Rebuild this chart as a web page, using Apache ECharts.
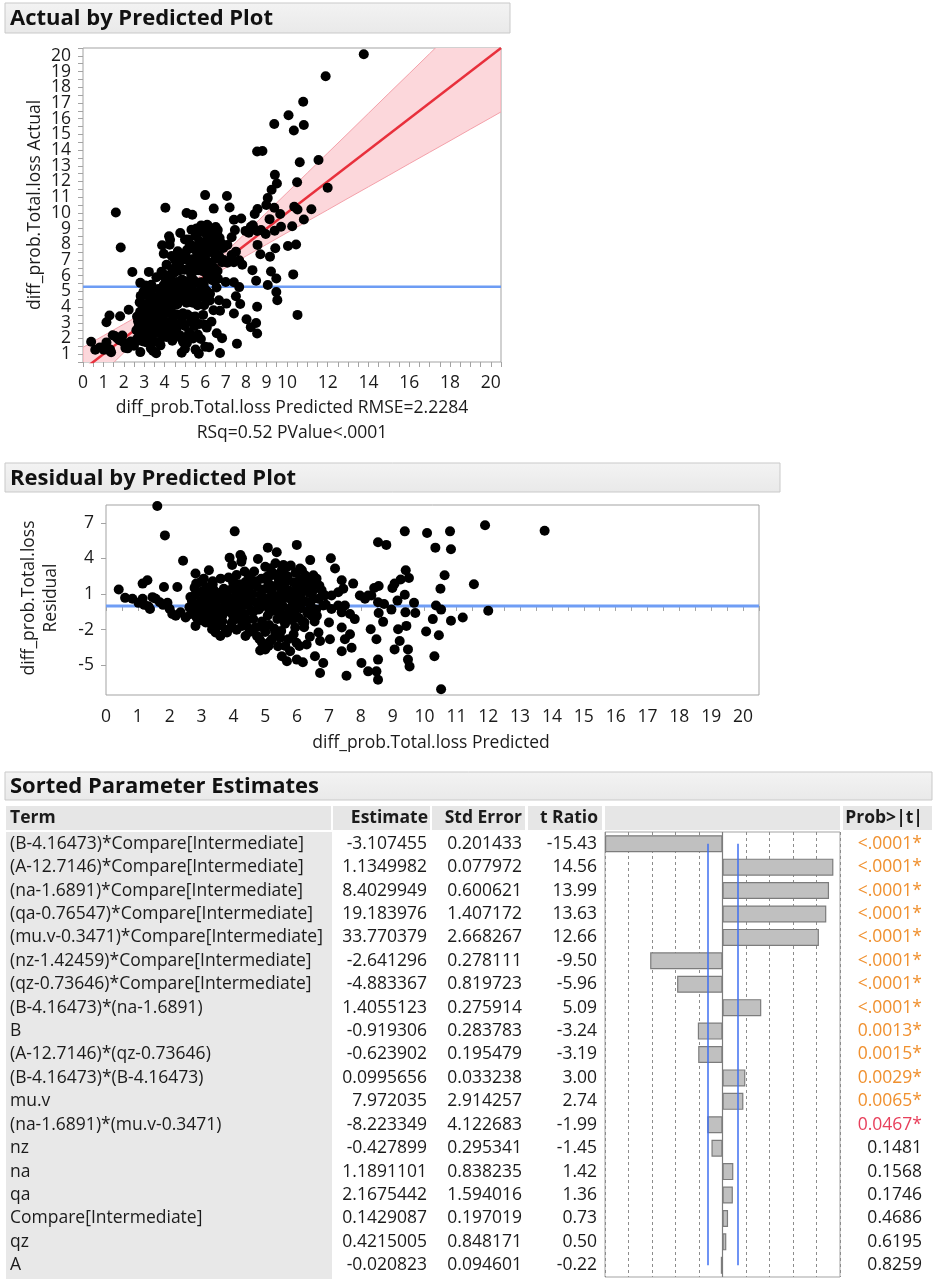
<!DOCTYPE html>
<html>
<head>
<meta charset="utf-8">
<title>Fit diagnostics</title>
<script src="https://cdn.jsdelivr.net/npm/echarts@6/dist/echarts.min.js"></script>
<style>
  html, body { margin: 0; padding: 0; background: #ffffff; }
  #main { width: 937px; height: 1285px; }
</style>
</head>
<body>
<div id="main"></div>
<script>
// ---- Data -----------------------------------------------------------------
// Each pair is [predicted, actual] for diff_prob.Total.loss.
const predictedActual = [
  [0.40,1.79],[0.60,1.28],[0.83,1.43],[1.02,1.28],[1.15,1.75],[1.20,1.29],[1.33,1.30],[1.46,2.20],[1.56,2.16],[1.69,2.00],
  [1.79,1.88],[1.93,2.19],[2.00,1.74],[1.38,1.12],[1.15,3.03],[1.30,3.46],[1.82,3.41],[1.61,10.02],[1.85,7.79],[2.24,3.83],
  [2.42,6.23],[2.08,1.40],[2.19,1.37],[2.34,1.80],[2.50,1.53],[2.66,1.98],[2.81,5.54],[2.83,4.71],[2.97,4.99],[3.23,6.24],
  [3.07,5.37],[3.35,5.42],[2.73,2.76],[2.86,2.60],[2.97,3.28],[3.13,3.73],[3.02,2.48],[2.81,1.13],[3.13,1.74],[3.33,1.37],
  [3.44,1.20],[3.59,1.06],[3.80,1.56],[3.23,4.25],[3.39,4.70],[3.54,4.42],[3.70,5.15],[3.59,4.19],[3.75,3.78],[3.96,4.56],
  [3.91,3.37],[3.65,2.83],[3.44,2.33],[3.23,2.55],[3.13,2.87],[3.88,7.94],[3.96,7.40],[4.04,10.32],[4.22,8.51],[4.27,8.28],
  [4.25,7.97],[3.99,6.06],[3.96,5.41],[4.11,5.13],[4.17,4.77],[4.27,5.86],[4.38,6.40],[4.48,7.07],[4.58,6.74],[4.43,5.59],
  [4.53,5.13],[4.32,4.35],[4.17,3.63],[4.06,2.95],[4.27,2.59],[4.38,1.85],[4.58,2.62],[4.74,2.21],[4.90,1.80],[5.00,1.34],
  [4.84,1.09],[5.10,1.72],[5.21,2.40],[5.31,3.07],[4.77,8.72],[5.08,9.99],[5.36,9.88],[5.16,8.31],[5.26,7.99],[5.10,7.63],
  [5.42,7.72],[5.57,9.01],[5.68,8.98],[5.52,8.53],[5.99,11.13],[6.09,9.24],[6.25,8.84],[6.41,10.27],[6.35,8.51],[6.51,9.10],
  [6.61,8.91],[7.06,11.07],[7.19,10.34],[7.40,9.56],[7.45,8.90],[7.29,8.45],[7.08,7.96],[6.88,7.76],[6.77,8.08],[6.67,7.27],
  [6.82,6.85],[7.08,6.82],[7.29,7.32],[7.50,7.53],[7.40,6.86],[7.66,6.98],[7.81,6.70],[7.76,9.64],[7.97,8.85],[8.13,8.73],
  [8.23,9.11],[8.33,9.21],[6.67,4.43],[6.72,3.77],[6.56,2.33],[6.82,2.02],[6.72,1.07],[7.03,4.22],[7.40,5.58],[7.50,4.69],
  [7.66,5.27],[7.71,4.19],[7.40,3.59],[7.55,1.67],[8.02,3.22],[8.23,2.72],[8.31,6.35],[8.49,5.68],[8.54,4.02],[8.49,2.98],
  [8.54,2.32],[8.42,9.93],[8.56,10.24],[8.54,13.91],[8.80,13.94],[8.54,8.85],[8.73,8.90],[8.56,7.96],[8.96,8.65],[8.70,7.36],
  [9.06,5.40],[9.17,7.21],[9.22,6.27],[8.99,10.50],[9.06,10.94],[9.25,11.47],[9.41,12.42],[9.51,11.87],[9.38,10.32],[9.15,9.60],
  [9.38,15.66],[9.40,8.86],[9.43,7.75],[9.48,5.82],[9.48,4.96],[9.53,4.44],[9.67,9.93],[9.71,9.11],[10.08,16.22],[10.34,15.25],
  [10.26,9.15],[10.05,7.89],[10.31,6.08],[10.45,7.98],[10.50,11.95],[10.63,13.22],[10.36,10.39],[10.52,10.21],[10.83,9.58],[10.80,17.08],
  [10.83,15.60],[10.52,3.50],[11.20,10.23],[11.55,13.37],[11.90,18.70],[12.00,11.60],[13.77,20.10],[5.52,1.29],[5.68,1.02],[5.99,1.47],
  [6.18,1.44],[6.30,3.06],[6.07,2.69],[5.89,3.50],[5.63,2.25],[5.47,2.80],[5.78,1.97],[6.23,4.84],[6.46,5.64],[5.94,4.12],
  [2.62,2.52],[2.70,3.10],[2.75,2.15],[2.80,3.70],[2.85,1.85],[2.90,3.00],[2.95,2.55],[3.00,4.20],[3.00,1.80],
  [3.05,3.55],[3.10,2.20],[3.15,4.75],[3.20,3.40],[3.25,2.95],[3.30,1.80],[3.30,4.10],[3.35,5.15],[3.40,2.80],[3.45,3.75],
  [3.50,4.60],[3.50,1.80],[3.55,3.35],[3.60,5.90],
  [3.65,2.35],[3.70,4.20],[3.75,1.75],[3.80,4.80],[3.80,3.40],[3.85,6.25],[3.90,4.00],[3.95,2.55],[4.00,5.90],[4.00,3.10],
  [4.05,4.45],[4.10,2.10],[4.10,6.70],[4.15,4.05],[4.20,5.50],[4.25,3.05],[4.30,5.10],[4.35,3.65],[4.35,7.25],[4.40,2.80],
  [4.45,4.65],[4.50,6.20],[4.50,2.30],[4.55,4.15],
  [4.60,5.60],[4.62,3.52],[4.65,7.55],[4.70,5.00],[4.70,2.90],[4.75,6.35],[4.80,4.50],[4.82,2.02],[4.85,5.75],[4.88,7.18],
  [4.90,3.60],[4.95,4.95],[4.98,6.38],[5.00,2.80],[5.00,8.30],
  [5.05,5.65],[5.08,4.28],[5.10,7.00],[5.12,3.52],[5.15,2.15],[5.18,5.38],[5.20,6.40],[5.22,7.82],[5.25,4.85],[5.28,3.38],
  [5.30,6.10],[5.32,8.92],[5.35,7.05],[5.38,4.28],[5.40,2.00],[5.42,5.72],[5.45,7.85],[5.48,4.88],[5.50,6.70],[5.50,3.40],
  [5.55,5.55],[5.58,8.58],[5.60,7.40],[5.62,4.12],[5.65,6.35],[5.68,4.98],[5.70,8.20],[5.72,2.92],[5.75,7.05],[5.78,5.58],
  [5.80,9.20],[5.82,6.32],[5.85,4.65],[5.88,7.88],[5.90,6.90],[5.92,5.42],[5.95,8.75],[5.98,2.88],[6.00,6.20],[6.00,7.60],
  [6.05,5.05],[6.08,8.28],[6.10,6.90],[6.12,5.92],[6.15,9.15],[6.20,7.50],[6.22,4.42],[6.25,6.65],[6.30,8.30],[6.32,5.72],
  [6.38,7.48],[6.40,3.80],[6.42,6.52],[6.45,8.15],[6.50,7.10],[6.55,5.25],[6.58,8.68],[6.60,6.30],
  [2.65,3.40],[2.78,4.30],[2.92,2.05],[3.08,4.05],[3.18,1.95],[3.28,3.10],[3.42,4.00],[3.48,2.60],[3.62,3.00],[3.72,3.60],
  [3.85,4.40],[3.92,2.10],[4.08,3.70],[4.18,6.00],[4.28,4.40],[4.42,3.30],[4.52,5.50],[4.64,4.20],[4.72,6.80],[4.86,3.10],
  [4.94,5.40],[5.02,7.40],[5.14,4.70],[5.24,6.90],[5.34,5.30],[5.46,6.30],[5.56,4.40],[5.66,7.80],[5.76,6.60],[5.86,5.10],
  [5.96,7.20],[6.06,6.40],[6.16,4.90],[6.26,7.90],[6.36,6.00],[6.48,7.70],[6.62,5.80],[6.70,8.40],[6.90,7.00],[7.00,5.60]
];

// Mean of the response and the fitted line (actual = predicted).
const meanActual = 5.3;
const fitLine = [[0, 0], [20.5, 20.5]];

// Confidence band around the fit, read at these predicted values.
const bandX     = [0, 1, 2, 3, 4, 5, 5.3, 6, 7, 8, 9, 10, 11, 12, 13, 14, 15, 16, 17, 18, 19, 20, 20.5];
const bandLower = [-1.43, -0.17, 1.09, 2.35, 3.60, 4.78, 5.10, 5.73, 6.50, 7.25, 7.99, 8.73, 9.46, 10.19, 10.93, 11.66, 12.39, 13.13, 13.86, 14.59, 15.33, 16.06, 16.43];
const bandUpper = [1.43, 2.17, 2.91, 3.65, 4.40, 5.22, 5.50, 6.27, 7.50, 8.75, 10.01, 11.27, 12.54, 13.81, 15.07, 16.34, 17.61, 18.87, 20.14, 21.41, 22.67, 23.94, 24.58];

// Tick labels.
const actualXLabels   = [0, 1, 2, 3, 4, 5, 6, 7, 8, 9, 10, 12, 14, 16, 18, 20];
const actualYLabels   = [1, 2, 3, 4, 5, 6, 7, 8, 9, 10, 11, 12, 13, 14, 15, 16, 17, 18, 19, 20];
const residualXLabels = [0, 1, 2, 3, 4, 5, 6, 7, 8, 9, 10, 11, 12, 13, 14, 15, 16, 17, 18, 19, 20];
const residualYLabels = [-5, -2, 1, 4, 7];

// Sorted parameter estimates.
const terms = [
  '(B-4.16473)*Compare[Intermediate]', '(A-12.7146)*Compare[Intermediate]', '(na-1.6891)*Compare[Intermediate]',
  '(qa-0.76547)*Compare[Intermediate]', '(mu.v-0.3471)*Compare[Intermediate]', '(nz-1.42459)*Compare[Intermediate]',
  '(qz-0.73646)*Compare[Intermediate]', '(B-4.16473)*(na-1.6891)', 'B', '(A-12.7146)*(qz-0.73646)',
  '(B-4.16473)*(B-4.16473)', 'mu.v', '(na-1.6891)*(mu.v-0.3471)', 'nz', 'na', 'qa', 'Compare[Intermediate]', 'qz', 'A'
];
const estimates = [-3.107455, 1.1349982, 8.4029949, 19.183976, 33.770379, -2.641296, -4.883367, 1.4055123, -0.919306,
  -0.623902, 0.0995656, 7.972035, -8.223349, -0.427899, 1.1891101, 2.1675442, 0.1429087, 0.4215005, -0.020823];
const stdErrors = [0.201433, 0.077972, 0.600621, 1.407172, 2.668267, 0.278111, 0.819723, 0.275914, 0.283783,
  0.195479, 0.033238, 2.914257, 4.122683, 0.295341, 0.838235, 1.594016, 0.197019, 0.848171, 0.094601];
const tRatios = [-15.43, 14.56, 13.99, 13.63, 12.66, -9.50, -5.96, 5.09, -3.24, -3.19, 3.00, 2.74, -1.99,
  -1.45, 1.42, 1.36, 0.73, 0.50, -0.22];
const probs = ['<.0001*', '<.0001*', '<.0001*', '<.0001*', '<.0001*', '<.0001*', '<.0001*', '<.0001*',
  '0.0013*', '0.0015*', '0.0029*', '0.0065*', '0.0467*', '0.1481', '0.1568', '0.1746', '0.4686', '0.6195', '0.8259'];
const tCritical = 1.97;
const tScaleMax = 15.43;

// ---- Styling ----------------------------------------------------------------
const FONT = "'Open Sans', 'Noto Sans', sans-serif";
const TXT = '#1b1b1b';
const FRAME = '#a3a3a3';
const FS = 17.5;
const DOT = 10;

const residualPts = predictedActual.map(([p, a]) => [p, +(a - p).toFixed(2)]);

function probClass(s) {
  const p = s.charAt(0) === '<' ? 0 : parseFloat(s);
  if (p < 0.01) return 'sig1';
  if (p < 0.05) return 'sig5';
  return 'ns';
}

function valueAxisLabel(list, extra) {
  return Object.assign({
    color: TXT, fontSize: FS, fontFamily: FONT,
    formatter: v => (list.indexOf(Math.round(v * 1000) / 1000) >= 0 ? String(Math.round(v)) : '')
  }, extra || {});
}

function headerBar(x, y, w, h, label) {
  return [
    { type: 'rect', z: -5, shape: { x: x, y: y, width: w, height: h },
      style: { fill: new echarts.graphic.LinearGradient(0, 0, 0, 1, [{ offset: 0, color: '#f3f3f3' }, { offset: 1, color: '#e9e9e9' }]),
               stroke: '#c9c9c9', lineWidth: 1 } },
    { type: 'text', z: 5, x: x + 5, y: y + h / 2 + 1,
      style: { text: label, fill: '#111', font: 'bold 22px ' + FONT, textAlign: 'left', textVerticalAlign: 'middle' } }
  ];
}

function cell(x, y, w, h, fill) {
  return { type: 'rect', z: -5, shape: { x: x, y: y, width: w, height: h }, style: { fill: fill } };
}

function headText(x, y, s, align) {
  return { type: 'text', z: 5, x: x, y: y,
    style: { text: s, fill: TXT, font: 'bold ' + FS + 'px ' + FONT, textAlign: align, textVerticalAlign: 'middle' } };
}

function tableColumn(margin, align, formatter, position, rich) {
  const label = { interval: 0, color: TXT, fontSize: FS, fontFamily: FONT, align: align, margin: margin };
  if (formatter) label.formatter = formatter;
  if (rich) label.rich = rich;
  return { type: 'category', gridIndex: 2, data: terms, inverse: true, position: position || 'left',
           axisLine: { show: false }, axisTick: { show: false }, splitLine: { show: false }, axisLabel: label };
}

const chart = echarts.init(document.getElementById('main'), null, { renderer: 'canvas', width: 937, height: 1285 });

const option = {
  backgroundColor: '#ffffff',
  animation: false,
  textStyle: { fontFamily: FONT },
  grid: [
    { left: 83, top: 48, width: 418, height: 314, show: true, borderColor: FRAME, borderWidth: 1, backgroundColor: '#fff', outerBoundsMode: 'none' },
    { left: 106, top: 505, width: 653, height: 190, show: true, borderColor: FRAME, borderWidth: 1, backgroundColor: '#fff', outerBoundsMode: 'none' },
    { left: 605, top: 832, width: 235, height: 445, show: true, borderColor: FRAME, borderWidth: 1, backgroundColor: '#fff', outerBoundsMode: 'none' }
  ],
  xAxis: [
    { type: 'value', gridIndex: 0, min: 0, max: 20.5, interval: 0.5,
      axisLine: { show: false }, splitLine: { show: false },
      axisTick: { show: true, length: 5, lineStyle: { color: FRAME } },
      axisLabel: valueAxisLabel(actualXLabels, { margin: 12, showMaxLabel: true }) },
    { type: 'value', gridIndex: 1, min: 0, max: 20.5, interval: 0.5,
      axisLine: { show: false }, splitLine: { show: false },
      axisTick: { show: true, length: 5, lineStyle: { color: FRAME } },
      axisLabel: valueAxisLabel(residualXLabels, { margin: 13 }) },
    { type: 'value', gridIndex: 2, min: -tScaleMax, max: tScaleMax, interval: tScaleMax / 5,
      axisLine: { show: false }, axisTick: { show: false }, axisLabel: { show: false },
      splitLine: { show: true, lineStyle: { color: '#8c8c8c', type: [3, 3], width: 1 } } }
  ],
  yAxis: [
    { type: 'value', gridIndex: 0, min: 0.5, max: 20.5, interval: 0.5,
      axisLine: { show: false }, splitLine: { show: false },
      axisTick: { show: true, length: 5, lineStyle: { color: FRAME } },
      axisLabel: valueAxisLabel(actualYLabels, { margin: 12 }) },
    { type: 'value', gridIndex: 1, min: -7.5, max: 8.5,
      axisLine: { show: false }, splitLine: { show: false },
      axisTick: { show: true, length: 5, lineStyle: { color: FRAME }, customValues: residualYLabels },
      axisLabel: { color: TXT, fontSize: FS, fontFamily: FONT, margin: 12, customValues: residualYLabels } },
    // table columns share the category scale of the t Ratio bars
    tableColumn(595, 'left'),
    tableColumn(178, 'right', (v, i) => String(estimates[i])),
    tableColumn(83, 'right', (v, i) => String(stdErrors[i])),
    tableColumn(8, 'right', (v, i) => tRatios[i].toFixed(2)),
    tableColumn(82, 'right', (v, i) => '{' + probClass(probs[i]) + '|' + probs[i] + '}', 'right', {
      sig1: { color: '#f0902e', fontSize: FS, fontFamily: FONT },
      sig5: { color: '#e8405c', fontSize: FS, fontFamily: FONT },
      ns:   { color: TXT, fontSize: FS, fontFamily: FONT }
    })
  ],
  series: [
    // confidence band drawn as one polygon through the band edges
    { type: 'custom', xAxisIndex: 0, yAxisIndex: 0, z: 1, silent: true, clip: true,
      data: [[bandX[0], bandLower[0]]],
      renderItem: (params, api) => {
        const pts = [];
        for (let i = 0; i < bandX.length; i++) pts.push(api.coord([bandX[i], bandUpper[i]]));
        for (let i = bandX.length - 1; i >= 0; i--) pts.push(api.coord([bandX[i], bandLower[i]]));
        return { type: 'polygon', shape: { points: pts },
                 style: { fill: '#fcd7db', stroke: '#f4a1aa', lineWidth: 1 } };
      } },
    { type: 'line', xAxisIndex: 0, yAxisIndex: 0, symbol: 'none', z: 2, silent: true,
      lineStyle: { color: '#6d9cf4', width: 2.5 },
      data: [[0, meanActual], [20.5, meanActual]] },
    { type: 'line', xAxisIndex: 0, yAxisIndex: 0, symbol: 'none', z: 3, silent: true,
      lineStyle: { color: '#e8303c', width: 2.5 }, data: fitLine },
    { type: 'scatter', xAxisIndex: 0, yAxisIndex: 0, z: 5, symbol: 'circle', symbolSize: DOT,
      itemStyle: { color: '#000000', opacity: 1 }, data: predictedActual },

    { type: 'line', xAxisIndex: 1, yAxisIndex: 1, symbol: 'none', z: 2, silent: true,
      lineStyle: { color: '#6f9df5', width: 3 }, data: [[0, 0], [20.5, 0]] },
    { type: 'scatter', xAxisIndex: 1, yAxisIndex: 1, z: 5, symbol: 'circle', symbolSize: DOT,
      itemStyle: { color: '#000000', opacity: 1 }, data: residualPts },

    { type: 'bar', xAxisIndex: 2, yAxisIndex: 2, barWidth: 17, z: 3,
      itemStyle: { color: '#c0c0c0', borderColor: '#7c7c7c', borderWidth: 1.2 },
      data: tRatios,
      markLine: {
        silent: true, symbol: 'none', label: { show: false },
        data: [
          { xAxis: 0, lineStyle: { color: '#7c7c7c', width: 1.2, type: 'solid' } },
          [{ coord: [-tCritical, terms[0]] }, { coord: [-tCritical, terms[terms.length - 1]] }],
          [{ coord: [tCritical, terms[0]] }, { coord: [tCritical, terms[terms.length - 1]] }]
        ],
        lineStyle: { color: '#3f6ff0', width: 1.5, type: 'solid' }
      } }
  ],
  graphic: [].concat(
    headerBar(5, 3, 505, 30, 'Actual by Predicted Plot'),
    headerBar(5, 463, 775, 29, 'Residual by Predicted Plot'),
    headerBar(5, 772, 927, 28, 'Sorted Parameter Estimates'),
    [
      // axis titles
      { type: 'text', z: 5, x: 292, y: 408,
        style: { text: 'diff_prob.Total.loss Predicted RMSE=2.2284', fill: TXT, font: FS + 'px ' + FONT, textAlign: 'center', textVerticalAlign: 'middle' } },
      { type: 'text', z: 5, x: 292, y: 433,
        style: { text: 'RSq=0.52 PValue<.0001', fill: TXT, font: FS + 'px ' + FONT, textAlign: 'center', textVerticalAlign: 'middle' } },
      { type: 'text', z: 5, x: 35, y: 205, rotation: Math.PI / 2,
        style: { text: 'diff_prob.Total.loss Actual', fill: TXT, font: FS + 'px ' + FONT, textAlign: 'center', textVerticalAlign: 'middle' } },
      { type: 'text', z: 5, x: 431, y: 743,
        style: { text: 'diff_prob.Total.loss Predicted', fill: TXT, font: FS + 'px ' + FONT, textAlign: 'center', textVerticalAlign: 'middle' } },
      { type: 'text', z: 5, x: 40, y: 598, rotation: Math.PI / 2,
        style: { text: 'diff_prob.Total.loss\nResidual', fill: TXT, font: FS + 'px ' + FONT, lineHeight: 22, textAlign: 'center', textVerticalAlign: 'middle' } },

      // table header cells and the shaded term column
      cell(6, 806, 325, 24, '#e6e6e6'),
      cell(333, 806, 97, 24, '#e6e6e6'),
      cell(432, 806, 93, 24, '#e6e6e6'),
      cell(528, 806, 74, 24, '#e6e6e6'),
      cell(605, 806, 235, 24, '#e6e6e6'),
      cell(843, 806, 89, 24, '#e6e6e6'),
      cell(6, 832, 326, 447, '#e8e8e8'),
      headText(10, 818, 'Term', 'left'),
      headText(428, 818, 'Estimate', 'right'),
      headText(522, 818, 'Std Error', 'right'),
      headText(598, 818, 't Ratio', 'right'),
      headText(923, 818, 'Prob>|t|', 'right')
    ]
  )
};

chart.setOption(option);
</script>
</body>
</html>
